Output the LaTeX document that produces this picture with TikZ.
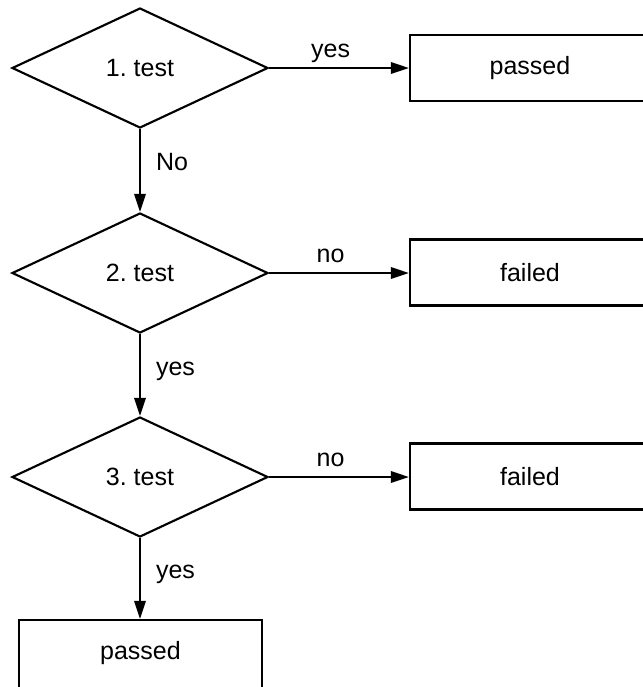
\documentclass[tikz,border=0pt]{standalone}
\usepackage{fontspec}
\setmainfont{Liberation Sans}
\frenchspacing
\usetikzlibrary{shapes.geometric,arrows.meta}
\begin{document}
\begin{tikzpicture}[x=0.75pt,y=-0.75pt,
  every node/.style={font=\fontsize{18.75}{22}\selectfont},
  test/.style={draw,line width=1.6pt,diamond,minimum width=192pt,minimum height=90pt,inner sep=0pt},
  result/.style={draw,line width=1.6pt,rectangle,minimum width=202.5pt,minimum height=49.5pt,inner sep=0pt},
  flow/.style={line width=1.6pt,-{Triangle[length=13.5pt,width=8.5pt]}},
  hlabel/.style={inner sep=0pt,text depth=0pt,anchor=base,yshift=8.25pt},
  vlabel/.style={inner sep=0pt,anchor=base west,xshift=11.25pt}]
\useasboundingbox (0,0) rectangle (643,687);
\node[test] (t1) at (140,68) {1. test};
\node[test] (t2) at (140,273) {2. test};
\node[test] (t3) at (140,477) {3. test};
\node[result] (r1) at (545,68) {passed\hspace*{22.5pt}};
\node[result] (r2) at (545,272.5) {failed\hspace*{22.5pt}};
\node[result] (r3) at (545,476.5) {failed\hspace*{22.5pt}};
\node[result,minimum width=182pt,minimum height=67.5pt] (r4) at (140.5,665) {\rule[-22pt]{0pt}{22pt}passed};
\draw[flow] (t1.east) -- node[hlabel,pos=0.44] {yes} (r1.west |- t1.east);
\draw[flow] (t2.east) -- node[hlabel,pos=0.44] {no} (r2.west |- t2.east);
\draw[flow] (t3.east) -- node[hlabel,pos=0.44] {no} (r3.west |- t3.east);
\draw[flow] (t1.south) -- node[vlabel,midway] {No} (t2.north);
\draw[flow] (t2.south) -- node[vlabel,midway] {yes} (t3.north);
\draw[flow] (t3.south) -- node[vlabel,midway] {yes} (t3.south |- r4.north);
\end{tikzpicture}
\end{document}
